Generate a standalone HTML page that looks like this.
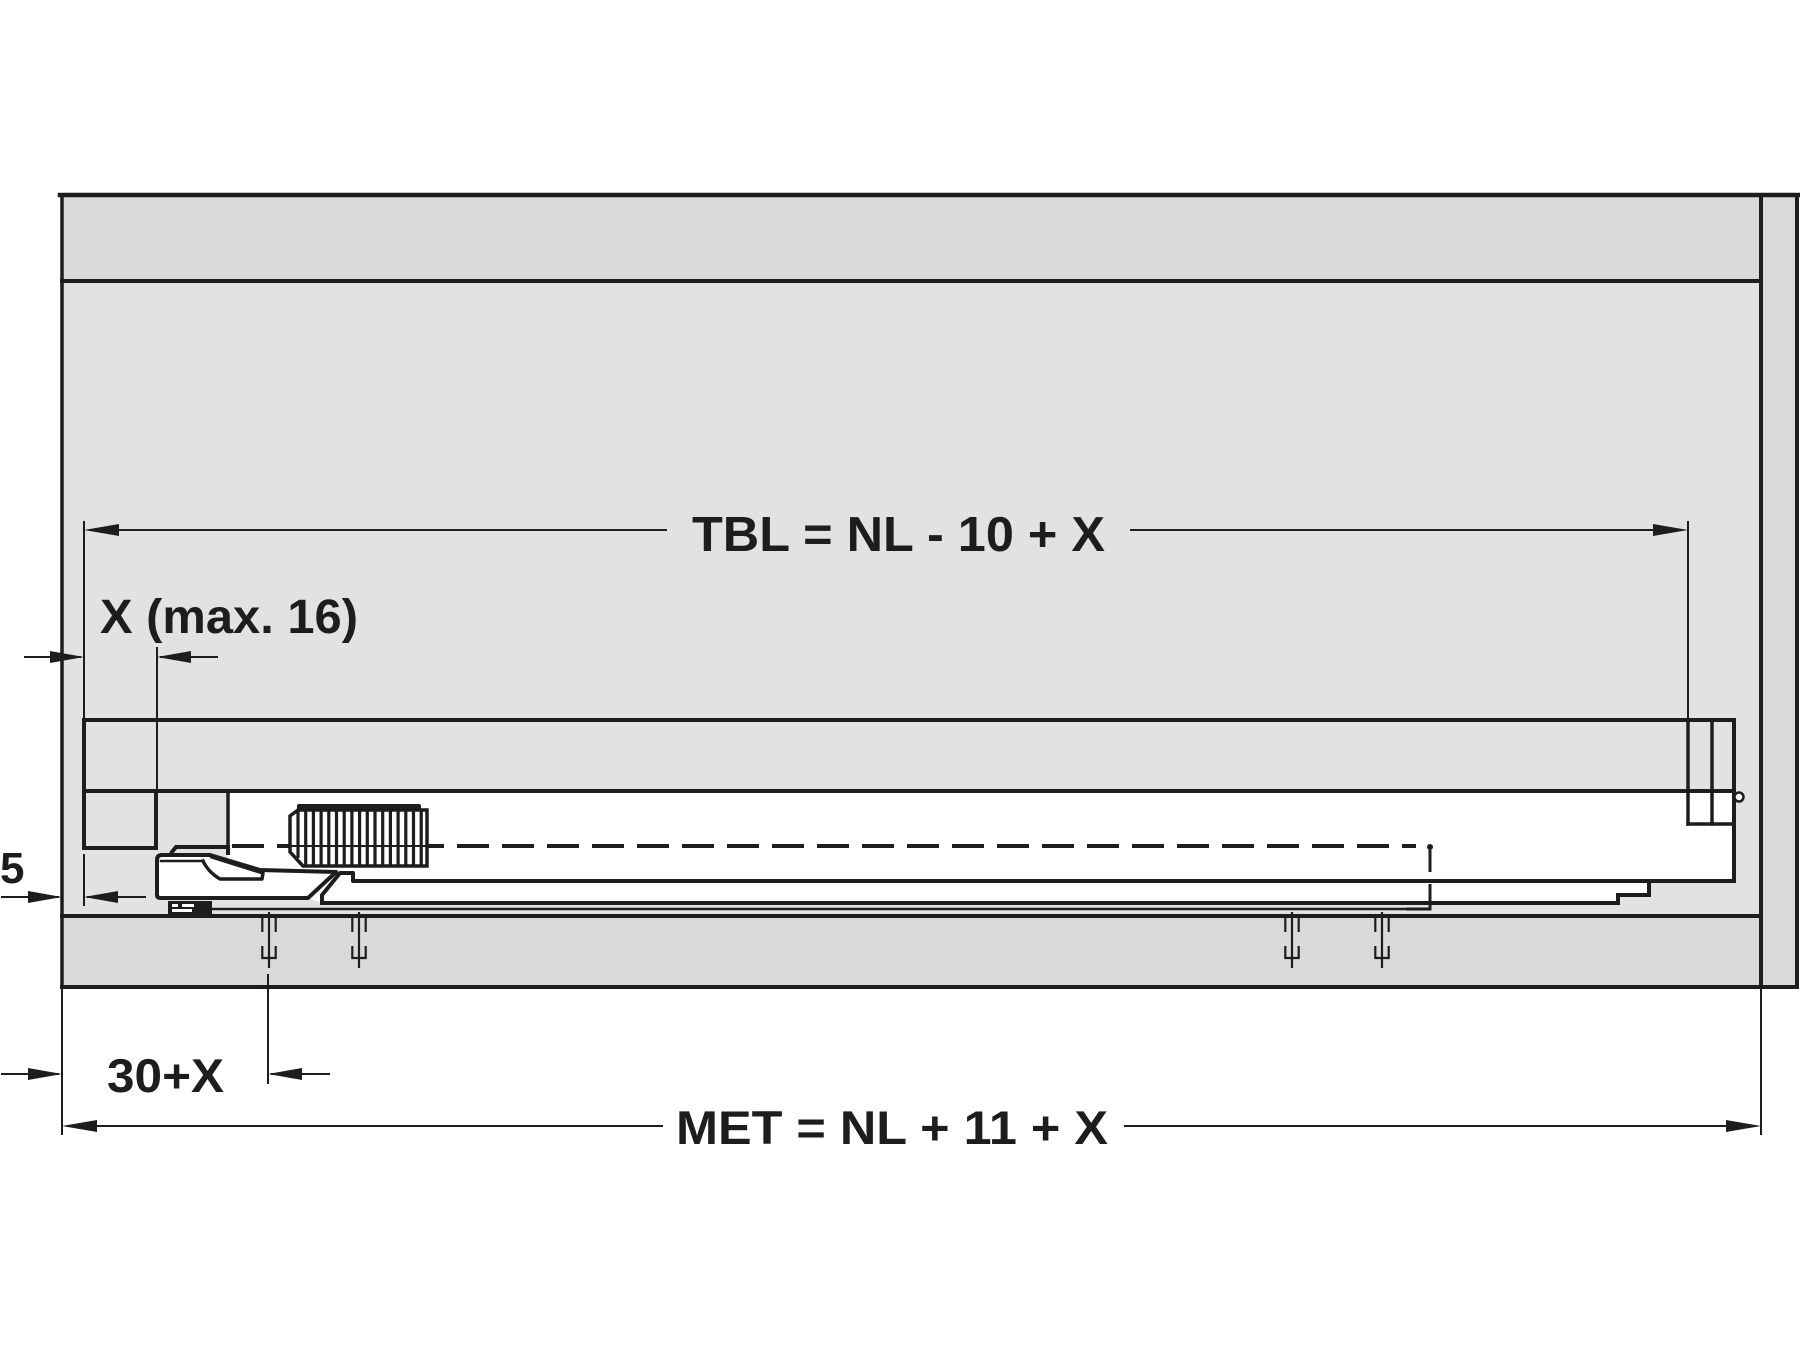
<!DOCTYPE html>
<html><head><meta charset="utf-8"><style>
html,body{margin:0;padding:0;background:#fff;}
svg{display:block;}
text{font-family:"Liberation Sans",Arial,sans-serif;font-weight:bold;fill:#1d1d1b;}
</style></head><body>
<svg width="1800" height="1350" viewBox="0 0 1800 1350" xmlns="http://www.w3.org/2000/svg">
<rect width="1800" height="1350" fill="#fff"/>
<!-- panels -->
<rect x="62" y="195" width="1699" height="792" fill="#e1e2e4"/>
<rect x="62" y="195" width="1699" height="86" fill="#d8d9db"/>
<rect x="1761" y="195" width="36" height="792" fill="#d8d9db"/>
<rect x="62" y="916" width="1699" height="71" fill="#d8d9db"/>

<!-- drawer white areas -->
<rect x="228" y="791" width="1506" height="90" fill="#fff"/>
<polygon points="322,881 1649,881 1649,895 1618,895 1618,903 322,903" fill="#fff"/>
<polygon points="157,858 161,855 208,855 260,869 340,872 322,895 322,903 308,898 160,898 157,895" fill="#fff"/>

<g stroke="#1d1d1b" fill="none" stroke-linecap="square">
<!-- frame -->
<line x1="60" y1="195" x2="1799" y2="195" stroke-width="4.5"/>
<line x1="62" y1="281" x2="1761" y2="281" stroke-width="4"/>
<line x1="62" y1="195" x2="62" y2="987" stroke-width="3.5"/>
<line x1="1761" y1="195" x2="1761" y2="987" stroke-width="4"/>
<line x1="1797" y1="195" x2="1797" y2="987" stroke-width="4"/>
<line x1="62" y1="987" x2="1797" y2="987" stroke-width="4"/>
<line x1="62" y1="916" x2="1761" y2="916" stroke-width="4"/>
<!-- extension lines -->
<line x1="62" y1="987" x2="62" y2="1134" stroke-width="2"/>
<line x1="1761" y1="987" x2="1761" y2="1134" stroke-width="2"/>
<line x1="84" y1="522" x2="84" y2="720" stroke-width="2"/>
<line x1="1688" y1="522" x2="1688" y2="720" stroke-width="2"/>
<line x1="157" y1="648" x2="157" y2="791" stroke-width="2"/>
<line x1="84" y1="855" x2="84" y2="905" stroke-width="2"/>
<line x1="268" y1="975" x2="268" y2="1083" stroke-width="2"/>

<!-- drawer top bar -->
<rect x="84" y="720" width="1650" height="71" stroke-width="4"/>
<line x1="1688" y1="720" x2="1688" y2="824" stroke-width="3.5"/>
<line x1="1712" y1="720" x2="1712" y2="824" stroke-width="3.5"/>
<line x1="1688" y1="824" x2="1734" y2="824" stroke-width="3.5"/>
<line x1="1734" y1="720" x2="1734" y2="881" stroke-width="4"/>
<circle cx="1739" cy="797" r="4.5" fill="#fff" stroke-width="2.5"/>
<!-- left box -->
<rect x="84" y="791" width="72" height="57" stroke-width="4"/>
<line x1="228" y1="791" x2="228" y2="850" stroke-width="3.5"/>

<!-- dashed line -->
<line x1="232" y1="846" x2="1416" y2="846" stroke-width="4" stroke-dasharray="32 13" stroke-linecap="butt"/>
<line x1="1430" y1="850" x2="1430" y2="909" stroke-width="3" stroke-dasharray="22 12" stroke-linecap="butt"/>
<circle cx="1430" cy="847" r="3" fill="#1d1d1b" stroke="none"/>
<path d="M1430,896 V909 H1408" stroke-width="3"/>

<!-- rails -->
<path d="M322,903 L322,895 L340,873 L353,873 L353,881 L1734,881" stroke-width="4" stroke-linejoin="round"/>
<path d="M322,903 L1618,903 L1618,895 L1649,895 L1649,881" stroke-width="4"/>
<line x1="210" y1="909" x2="1430" y2="909" stroke-width="2.5"/>

<!-- left slide piece -->
<path d="M157,895 L157,860 Q157,855 162,855 L210,855 L260,870 L336,872 L308,898 L161,898 Q157,898 157,895 Z" fill="#fff" stroke-width="4" stroke-linejoin="round"/>
<line x1="161" y1="861" x2="203" y2="861" stroke-width="2.5"/>
<path d="M203,861 Q208,872 220,879 L262,879 L263,873 L212,857" stroke-width="3.5" stroke-linejoin="round"/>
<path d="M172,852 L176,847 L228,847 L228,853" stroke-width="4"/>
<rect x="168" y="901" width="44" height="13" fill="#1d1d1b" stroke="none"/>
<rect x="172" y="904" width="6" height="3" fill="#fff" stroke="none"/>
<rect x="182" y="904" width="12" height="3" fill="#fff" stroke="none"/>
<rect x="172" y="909" width="20" height="3" fill="#fff" stroke="none"/>

<!-- damper -->
<path d="M298,810 L427,810 L427,866 L303,866 L290,852 L290,816 Z" fill="#fff" stroke-width="3.5"/>
<rect x="297" y="804" width="124" height="7" fill="#1d1d1b" stroke="none" rx="2"/>
<g stroke-width="3.2" stroke-linecap="butt">
<line x1="298" y1="811" x2="298" y2="858"/>
<line x1="305.7" y1="811" x2="305.7" y2="866"/>
<line x1="313.4" y1="811" x2="313.4" y2="866"/>
<line x1="321.1" y1="811" x2="321.1" y2="866"/>
<line x1="328.8" y1="811" x2="328.8" y2="866"/>
<line x1="336.5" y1="811" x2="336.5" y2="866"/>
<line x1="344.2" y1="811" x2="344.2" y2="866"/>
<line x1="351.9" y1="811" x2="351.9" y2="866"/>
<line x1="359.6" y1="811" x2="359.6" y2="866"/>
<line x1="367.3" y1="811" x2="367.3" y2="866"/>
<line x1="375" y1="811" x2="375" y2="866"/>
<line x1="382.7" y1="811" x2="382.7" y2="866"/>
<line x1="390.4" y1="811" x2="390.4" y2="866"/>
<line x1="398.1" y1="811" x2="398.1" y2="866"/>
<line x1="405.8" y1="811" x2="405.8" y2="866"/>
<line x1="413.5" y1="811" x2="413.5" y2="866"/>
<line x1="421.2" y1="811" x2="421.2" y2="866"/>
</g>
<line x1="290" y1="846" x2="427" y2="846" stroke-width="2"/>

<!-- screws -->
<g stroke-width="2.2" stroke-linecap="butt">
<line x1="269" y1="912" x2="269" y2="968"/>
<line x1="262.3" y1="918" x2="262.3" y2="932"/><line x1="275.7" y1="918" x2="275.7" y2="932"/>
<path d="M262.3,946 V958 H275.7 V946"/>
<line x1="359" y1="912" x2="359" y2="968"/>
<line x1="352.3" y1="918" x2="352.3" y2="932"/><line x1="365.7" y1="918" x2="365.7" y2="932"/>
<path d="M352.3,946 V958 H365.7 V946"/>
<line x1="1292" y1="912" x2="1292" y2="968"/>
<line x1="1285.3" y1="918" x2="1285.3" y2="932"/><line x1="1298.7" y1="918" x2="1298.7" y2="932"/>
<path d="M1285.3,946 V958 H1298.7 V946"/>
<line x1="1382" y1="912" x2="1382" y2="968"/>
<line x1="1375.3" y1="918" x2="1375.3" y2="932"/><line x1="1388.7" y1="918" x2="1388.7" y2="932"/>
<path d="M1375.3,946 V958 H1388.7 V946"/>
</g>

<!-- dimension lines -->
<g stroke-width="2">
<line x1="90" y1="530" x2="666" y2="530"/>
<line x1="1131" y1="530" x2="1682" y2="530"/>
<line x1="68" y1="1126" x2="662" y2="1126"/>
<line x1="1125" y1="1126" x2="1755" y2="1126"/>
<line x1="25" y1="657" x2="80" y2="657"/>
<line x1="161" y1="657" x2="217" y2="657"/>
<line x1="2" y1="897" x2="58" y2="897"/>
<line x1="88" y1="897" x2="145" y2="897"/>
<line x1="2" y1="1074" x2="58" y2="1074"/>
<line x1="272" y1="1074" x2="329" y2="1074"/>
</g>
</g>

<!-- arrowheads -->
<g fill="#1d1d1b">
<polygon points="84,530 119,524 119,536"/>
<polygon points="1688,530 1653,524 1653,536"/>
<polygon points="62,1126 97,1120 97,1132"/>
<polygon points="1761,1126 1726,1120 1726,1132"/>
<polygon points="84,657 50,651 50,663"/>
<polygon points="157,657 191,651 191,663"/>
<polygon points="62,897 28,891 28,903"/>
<polygon points="84,897 118,891 118,903"/>
<polygon points="62,1074 28,1068 28,1080"/>
<polygon points="268,1074 302,1068 302,1080"/>
</g>

<!-- labels -->
<text x="692" y="551" font-size="49" textLength="413" lengthAdjust="spacingAndGlyphs">TBL = NL - 10 + X</text>
<text x="676" y="1144" font-size="47" textLength="432" lengthAdjust="spacingAndGlyphs">MET = NL + 11 + X</text>
<text x="100" y="633" font-size="48" textLength="258" lengthAdjust="spacingAndGlyphs">X (max. 16)</text>
<text x="107" y="1092" font-size="47" textLength="117" lengthAdjust="spacingAndGlyphs">30+X</text>
<text x="0" y="883" font-size="44">5</text>
</svg>
</body></html>
